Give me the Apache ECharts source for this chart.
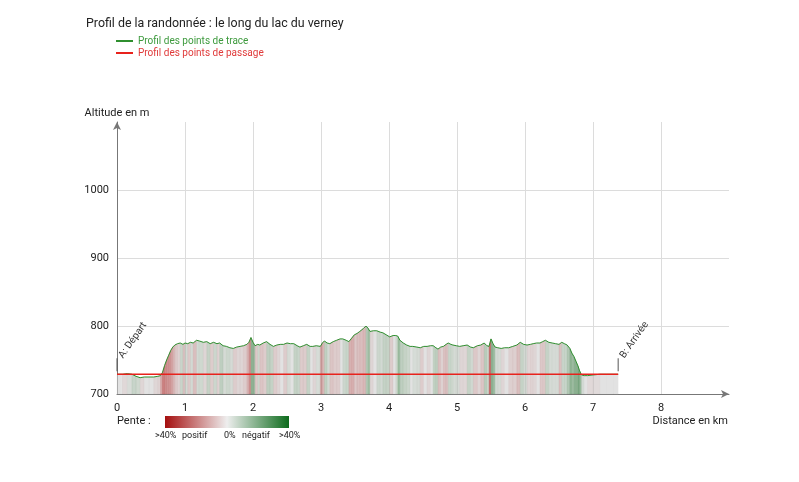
<!DOCTYPE html>
<html>
<head>
<meta charset="utf-8">
<script src="https://cdn.jsdelivr.net/npm/echarts@6/dist/echarts.min.js"></script>
<style>html,body{margin:0;padding:0;background:#fff}#c{width:799px;height:482px}</style>
</head>
<body>
<div id="c"></div>
<script>
// ---- data ----
const traceDist = [0.00,0.08,0.15,0.22,0.28,0.34,0.40,0.47,0.54,0.60,0.64,0.67,0.70,0.73,0.76,0.79,0.82,0.85,0.89,0.93,0.97,1.00,1.04,1.08,1.12,1.17,1.21,1.27,1.32,1.37,1.42,1.47,1.51,1.56,1.61,1.66,1.71,1.76,1.81,1.86,1.91,1.94,1.97,2.00,2.03,2.07,2.10,2.15,2.20,2.25,2.30,2.35,2.40,2.45,2.50,2.55,2.60,2.65,2.69,2.74,2.79,2.84,2.88,2.93,2.99,3.02,3.05,3.09,3.13,3.18,3.23,3.28,3.32,3.37,3.41,3.45,3.49,3.53,3.57,3.62,3.66,3.69,3.72,3.77,3.82,3.87,3.91,3.96,4.01,4.06,4.10,4.13,4.16,4.21,4.26,4.31,4.35,4.41,4.46,4.51,4.56,4.61,4.65,4.69,4.72,4.76,4.80,4.84,4.87,4.91,4.94,4.99,5.04,5.09,5.15,5.20,5.24,5.30,5.35,5.40,5.44,5.47,5.50,5.53,5.56,5.60,5.65,5.70,5.76,5.82,5.88,5.93,5.98,6.03,6.08,6.12,6.17,6.22,6.26,6.30,6.35,6.40,6.45,6.50,6.54,6.58,6.62,6.66,6.69,6.72,6.75,6.78,6.80,6.83,6.87,6.92,7.00,7.10,7.20,7.30,7.37];
const traceAlt = [729,729,730,729,726,724,725,725,725,726,727,732,742,750,757,764,769,772,774,775,773,775,774,776,775,779,778,776,777,774,776,774,775,771,770,768,767,769,770,771,773,776,783,776,771,773,772,775,777,773,770,772,773,773,775,774,774,771,769,771,773,770,770,771,770,775,778,775,774,777,779,781,781,779,777,782,787,789,792,796,800,797,792,793,793,791,790,787,784,786,786,785,779,775,772,770,770,769,768,770,770,771,771,768,766,769,770,773,775,773,772,771,770,771,772,769,768,771,772,775,771,770,781,774,769,768,767,768,768,770,772,776,773,772,773,774,775,775,777,779,776,775,774,773,776,774,772,767,760,755,748,741,735,728,727,727,728,729,729,729,729];
const passDist = [0, 7.37];
const passAlt = [729, 729];
const markerDist = [0, 7.37];
const markerAlt = [729, 729];
const markerLabels = ['A: Départ', 'B: Arrivée'];
const xTicks = [0,1,2,3,4,5,6,7,8];
const yTicks = [700,800,900,1000];
const slopeLabels = ['>40%','positif','0%','négatif','>40%'];

const traceName = 'Profil des points de trace';
const passName = 'Profil des points de passage';

// slope colour scale
const RED = [160,15,15], MID = [205,205,205], GREEN = [15,100,25];
function slopeColor(s){
  let t = Math.min(Math.abs(s)/0.4, 1);
  t = Math.pow(t, 0.7);
  const end = s > 0 ? RED : GREEN;
  const c = MID.map((m,i)=>Math.round(m + (end[i]-m)*t));
  return 'rgba(' + c.join(',') + ',0.58)';
}

const traceData = traceDist.map((d,i)=>[d, traceAlt[i]]);
const passData = passDist.map((d,i)=>[d, passAlt[i]]);
const segData = [];
for (let i=0;i<traceDist.length-1;i++){
  const s = (traceAlt[i+1]-traceAlt[i])/((traceDist[i+1]-traceDist[i])*1000);
  segData.push([traceDist[i], traceAlt[i], traceDist[i+1], traceAlt[i+1], s]);
}
const markerData = markerDist.map((d,i)=>[d, markerAlt[i]]);

const chart = echarts.init(document.getElementById('c'), null, {renderer:'canvas'});
const axisLineStyle = {color:'#777', width:1};
const option = {
  animation: false,
  textStyle: {fontFamily: 'Roboto'},
  title: {
    text: 'Profil de la randonnée : le long du lac du verney',
    left: 81, top: 13,
    textStyle: {fontSize: 12.4, fontWeight: 'normal', color: '#222', fontFamily: 'Roboto'}
  },
  legend: {
    orient: 'vertical', left: 111, top: 31,
    icon: 'rect', itemWidth: 17, itemHeight: 2, itemGap: 2,
    textStyle: {fontSize: 10, fontFamily: 'Roboto'},
    data: [
      {name: traceName, textStyle: {color: '#3d9a3d'}},
      {name: passName, textStyle: {color: '#e03a3a'}}
    ]
  },
  grid: {left: 117, right: 70, top: 122, bottom: 88},
  xAxis: {
    type: 'value', min: 0, max: 9, interval: 1,
    axisLine: {show: true, lineStyle: axisLineStyle, symbol: ['none','arrow'], symbolSize: [6,8]},
    axisTick: {show: false},
    axisLabel: {showMaxLabel: false, color: '#222', fontSize: 11, margin: 9,
      formatter: v => xTicks.indexOf(v) >= 0 ? String(v) : ''},
    splitLine: {show: true, showMaxLine: false, lineStyle: {color: '#dcdcdc'}}
  },
  yAxis: {
    type: 'value', min: 700, max: 1100, interval: 100,
    name: 'Altitude en m', nameGap: 3,
    nameTextStyle: {color: '#222', fontSize: 11},
    axisLine: {show: true, lineStyle: axisLineStyle, symbol: ['none','arrow'], symbolSize: [6,8]},
    axisTick: {show: false},
    axisLabel: {showMaxLabel: false, color: '#222', fontSize: 11, margin: 8,
      formatter: v => yTicks.indexOf(v) >= 0 ? String(v) : ''},
    splitLine: {show: true, showMaxLine: false, lineStyle: {color: '#dcdcdc'}}
  },
  series: [
    {
      type: 'custom', z: 1, silent: true,
      data: segData,
      encode: {x: [0,2], y: [1,3]},
      renderItem: function(params, api){
        const p1 = api.coord([api.value(0), api.value(1)]);
        const p2 = api.coord([api.value(2), api.value(3)]);
        const b1 = api.coord([api.value(0), 700]);
        const b2 = api.coord([api.value(2), 700]);
        const col = slopeColor(api.value(4));
        return {
          type: 'polygon',
          shape: {points: [p1, p2, b2, b1]},
          style: {fill: col, stroke: col, lineWidth: 0.3}
        };
      }
    },
    {
      name: traceName, type: 'line', z: 3,
      data: traceData, showSymbol: false, symbol: 'none',
      lineStyle: {color: '#2f8f2f', width: 1},
      itemStyle: {color: '#2f8f2f'}
    },
    {
      name: passName, type: 'line', z: 4,
      data: passData, showSymbol: false, symbol: 'none',
      lineStyle: {color: '#e8221c', width: 1.5},
      itemStyle: {color: '#e8221c'}
    },
    {
      type: 'custom', z: 5, silent: true,
      data: markerData,
      encode: {x: 0, y: 1},
      renderItem: function(params, api){
        const p = api.coord([api.value(0), api.value(1)]);
        const label = markerLabels[params.dataIndex];
        return {
          type: 'group',
          children: [
            {type: 'line', shape: {x1: p[0], y1: p[1]-3, x2: p[0], y2: p[1]-16},
             style: {stroke: '#555', lineWidth: 1}},
            {type: 'text', x: p[0]+4, y: p[1]-17, rotation: Math.PI*55/180,
             style: {text: label, fill: '#333', font: '10px Roboto',
                     align: 'left', verticalAlign: 'middle',
                     textAlign: 'left', textVerticalAlign: 'middle'}}
          ]
        };
      }
    }
  ],
  graphic: [
    {type: 'text', right: 71, top: 416,
     style: {text: 'Distance en km', fill: '#222', font: '11px Roboto'}},
    {type: 'text', left: 117, top: 416,
     style: {text: 'Pente :', fill: '#222', font: '11px Roboto'}},
    {type: 'rect', left: 165, top: 416, shape: {width: 124, height: 12},
     style: {fill: new echarts.graphic.LinearGradient(0,0,1,0,[
       {offset: 0, color: '#a50f0f'},
       {offset: 0.5, color: '#eeeeee'},
       {offset: 1, color: '#0d6b1c'}
     ])}},
    {type: 'text', left: 155, top: 431, style: {text: slopeLabels[0], fill: '#222', font: '9px Roboto'}},
    {type: 'text', left: 182, top: 431, style: {text: slopeLabels[1], fill: '#222', font: '9px Roboto'}},
    {type: 'text', left: 224, top: 431, style: {text: slopeLabels[2], fill: '#222', font: '9px Roboto'}},
    {type: 'text', left: 242, top: 431, style: {text: slopeLabels[3], fill: '#222', font: '9px Roboto'}},
    {type: 'text', left: 279, top: 431, style: {text: slopeLabels[4], fill: '#222', font: '9px Roboto'}}
  ]
};
chart.setOption(option);
</script>
</body>
</html>
